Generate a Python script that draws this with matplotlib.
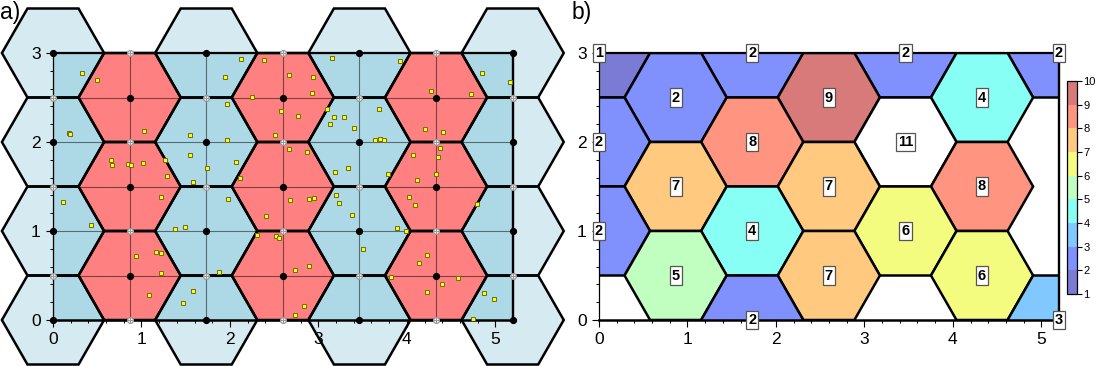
import numpy as np
import matplotlib
matplotlib.use('Agg')
import matplotlib.pyplot as plt
from matplotlib.patches import Polygon
from matplotlib.colors import ListedColormap, BoundaryNorm
import matplotlib.colorbar as mcolorbar

plt.rcParams['font.family'] = ['Liberation Sans', 'DejaVu Sans']

# ---------------- data ----------------
x_pts = [0.324, 0.494, 0.1755, 0.19,
         1.03, 0.655, 0.67, 0.85, 0.88, 1.017, 1.27, 1.285,
         2.12, 2.39, 1.947, 2.67, 2.245, 1.97, 2.576, 2.77,
         1.55, 1.97, 2.505, 2.67, 1.548, 1.744, 2.07, 2.11, 1.585,
         0.117, 0.43, 1.224, 1.98, 2.68, 2.41, 1.375, 1.495, 2.305, 2.52, 2.557,
         0.938, 1.167, 1.224, 1.224, 1.88, 2.74, 1.088, 1.585, 1.47, 2.735,
         3.156, 3.924, 2.94, 2.927, 4.85, 5.17, 4.27, 4.72,
         3.1, 3.18, 3.29, 3.13, 3.405, 3.69, 3.635, 3.695, 3.743,
         4.207, 4.407, 2.874, 4.38, 4.064, 4.35, 3.333, 3.19, 3.79, 4.33, 4.117,
         2.897, 2.953, 3.194, 3.228, 3.375, 4.02, 4.094, 4.795, 3.89, 3.99,
         3.506, 4.23, 4.143, 2.897, 3.82, 4.23, 4.4, 4.58, 4.873, 4.987, 4.75, 2.84]
y_pts = [2.78, 2.70, 2.098, 2.087,
         2.12, 1.80, 1.74, 1.75, 1.74, 1.76, 1.80, 1.62,
         2.93, 2.92, 2.73, 2.75, 2.51, 2.43, 2.35, 2.29,
         2.08, 2.02, 2.08, 1.92, 1.85, 1.71, 1.775, 1.59, 1.55,
         1.326, 1.067, 1.379, 1.356, 1.345, 1.17, 1.026, 1.04, 0.95, 0.94, 0.92,
         0.715, 0.764, 0.753, 0.528, 0.539, 0.56, 0.28, 0.326, 0.19, 0.056,
         2.94, 2.906, 2.73, 2.547, 2.78, 2.67, 2.57, 2.536,
         2.367, 2.28, 2.28, 2.2, 2.157, 2.375, 2.02, 2.03, 2.026,
         2.15, 2.116, 1.89, 1.936, 1.854, 1.83, 1.71, 1.66, 1.637, 1.64, 1.573,
         1.356, 1.367, 1.41, 1.32, 1.18, 1.379, 1.289, 1.307, 1.03, 1.0,
         0.794, 0.727, 0.644, 0.603, 0.48, 0.32, 0.4, 0.476, 0.3, 0.233, 0.015, 0.16]

# hexagon lattice (column index, row y) and bin counts of panel b
hex_col = [0, 2, 4, 6, 1, 3, 5, 0, 2, 4, 6, 1, 3, 5, 0, 2, 4, 6, 1, 3, 5, 0, 2, 4, 6]
hex_row = [3, 3, 3, 3, 2.5, 2.5, 2.5, 2, 2, 2, 2, 1.5, 1.5, 1.5,
           1, 1, 1, 1, 0.5, 0.5, 0.5, 0, 0, 0, 0]
hex_count = [1, 2, 2, 2, 2, 9, 4, 2, 8, 11, 0, 7, 7, 8,
             2, 4, 6, 0, 5, 7, 6, 0, 2, 0, 3]

cbar_bounds = [1, 2, 3, 4, 5, 6, 7, 8, 9, 10]
cbar_colors = ['#7b7bd6', '#8090fc', '#80c8ff', '#88fff4', '#c0ffc0',
               '#f4fc80', '#ffc980', '#ff9580', '#d87a7a']

x_ticks = [0, 1, 2, 3, 4, 5]
y_ticks = [0, 1, 2, 3]

# ---------------- geometry ----------------
S3 = np.sqrt(3.0)
R = 1.0 / S3
DX = S3 / 2.0
XMAX = 6 * DX
YMAX = 3.0


def hex_verts(cx, cy):
    t = np.radians(np.arange(0, 360, 60))
    return np.column_stack([cx + R * np.cos(t), cy + R * np.sin(t)])


fig = plt.figure(figsize=(10.96, 3.66), dpi=100)
W, H = 1096.0, 366.0
axa = fig.add_axes([53 / W, (H - 320) / H, 460 / W, 267 / H])
axb = fig.add_axes([599 / W, (H - 320) / H, 460 / W, 267 / H])
cax = fig.add_axes([1067 / W, (H - 294) / H, 9.5 / W, 213 / H])

BLUE = '#add8e6'
LIGHT = '#d6eaf1'
RED = '#ff8080'
EDGE_LW = 1.8


def style_axes(ax):
    ax.set_xlim(0, XMAX)
    ax.set_ylim(0, YMAX)
    ax.set_xticks(x_ticks)
    ax.set_yticks(y_ticks)
    ax.set_xticks(np.arange(0, 5.21, 0.2), minor=True)
    ax.set_yticks(np.arange(0, 3.01, 0.2), minor=True)
    ax.tick_params(which='major', direction='out', length=4.8, width=0.8,
                   labelsize=12.5, color='k')
    ax.tick_params(axis='x', which='major', pad=3.5)
    ax.tick_params(axis='y', which='major', pad=4)
    ax.tick_params(which='minor', direction='out', length=2.4, width=0.7)
    ax.spines['left'].set_linewidth(0.9)
    ax.spines['bottom'].set_linewidth(1.8)
    ax.spines['top'].set_linewidth(1.6)
    ax.spines['right'].set_linewidth(1.7)
    for s in ax.spines.values():
        s.set_zorder(6)
        s.set_capstyle('projecting')


# ---------------- panel a ----------------
for c, r in zip(hex_col, hex_row):
    cx = c * DX
    v = hex_verts(cx, r)
    if c % 2 == 0:
        axa.add_patch(Polygon(v, closed=True, fc=LIGHT, ec='none',
                              clip_on=False, zorder=1))
        axa.add_patch(Polygon(v, closed=True, fc=BLUE, ec='none', zorder=2))
    else:
        axa.add_patch(Polygon(v, closed=True, fc=RED, ec='none', zorder=2))

for c in range(7):
    axa.axvline(c * DX, color='k', lw=0.8, alpha=0.5, zorder=3)
for yy in np.arange(0, 3.01, 0.5):
    axa.axhline(yy, color='k', lw=0.8, alpha=0.5, zorder=3)

for c, r in zip(hex_col, hex_row):
    v = hex_verts(c * DX, r)
    axa.add_patch(Polygon(v, closed=True, fill=False, ec='k', lw=EDGE_LW,
                          joinstyle='miter', clip_on=False, zorder=4))

# grid nodes: hex centres (filled) and in-between nodes (open)
cen_x = [c * DX for c in hex_col]
axa.plot(cen_x, hex_row, 'o', color='k', ms=4.2, clip_on=False, zorder=7)
ox, oy = [], []
for c in range(7):
    ys = [0.5, 1.5, 2.5] if c % 2 == 0 else [0, 1, 2, 3]
    for yy in ys:
        ox.append(c * DX)
        oy.append(yy)
axa.plot(ox, oy, 'o', mfc='white', mec='#9a9a9a', mew=0.9, ms=4.2,
         clip_on=False, zorder=7)
axa.plot(ox, oy, '+', color='#9a9a9a', ms=4.2, mew=0.8, clip_on=False, zorder=7)

axa.plot(x_pts, y_pts, 's', mfc='#ffff00', mec='#6b6b20', mew=0.7, ms=3.5,
         ls='none', zorder=8)
style_axes(axa)

# ---------------- panel b ----------------
cmap = ListedColormap(cbar_colors)
cmap.set_over('white')
norm = BoundaryNorm(cbar_bounds, cmap.N)

for c, r, n in zip(hex_col, hex_row, hex_count):
    if n <= 0:
        continue
    v = hex_verts(c * DX, r)
    axb.add_patch(Polygon(v, closed=True, fc=cmap(norm(n)), ec='k',
                          lw=EDGE_LW, joinstyle='miter', zorder=2))
for c, r, n in zip(hex_col, hex_row, hex_count):
    if n <= 0:
        continue
    axb.text(c * DX, r, str(n), ha='center', va='center', fontsize=10.5,
             fontweight='bold', clip_on=False, zorder=10,
             bbox=dict(boxstyle='square,pad=0.14', fc='white', ec='#555555',
                       lw=0.9))
style_axes(axb)

cb = mcolorbar.ColorbarBase(cax, cmap=cmap, norm=norm, boundaries=cbar_bounds,
                            ticks=cbar_bounds, orientation='vertical')
cb.outline.set_linewidth(0.9)
cax.tick_params(length=3.6, width=0.8, labelsize=8, pad=1.5)
cax.set_yticklabels([str(b) for b in cbar_bounds])
for i, t in enumerate(cax.yaxis.get_major_ticks()):
    if cbar_bounds[i] in (1, 9):
        t.tick2line.set_color('#b0b0b0')
        t.tick1line.set_color('#b0b0b0')

fig.text(0.0 / W, 1 - 19 / H, 'a)', fontsize=16.5, ha='left', va='baseline')
fig.text(572 / W, 1 - 19 / H, 'b)', fontsize=16.5, ha='left', va='baseline')

fig.savefig('out.png', dpi=100)
